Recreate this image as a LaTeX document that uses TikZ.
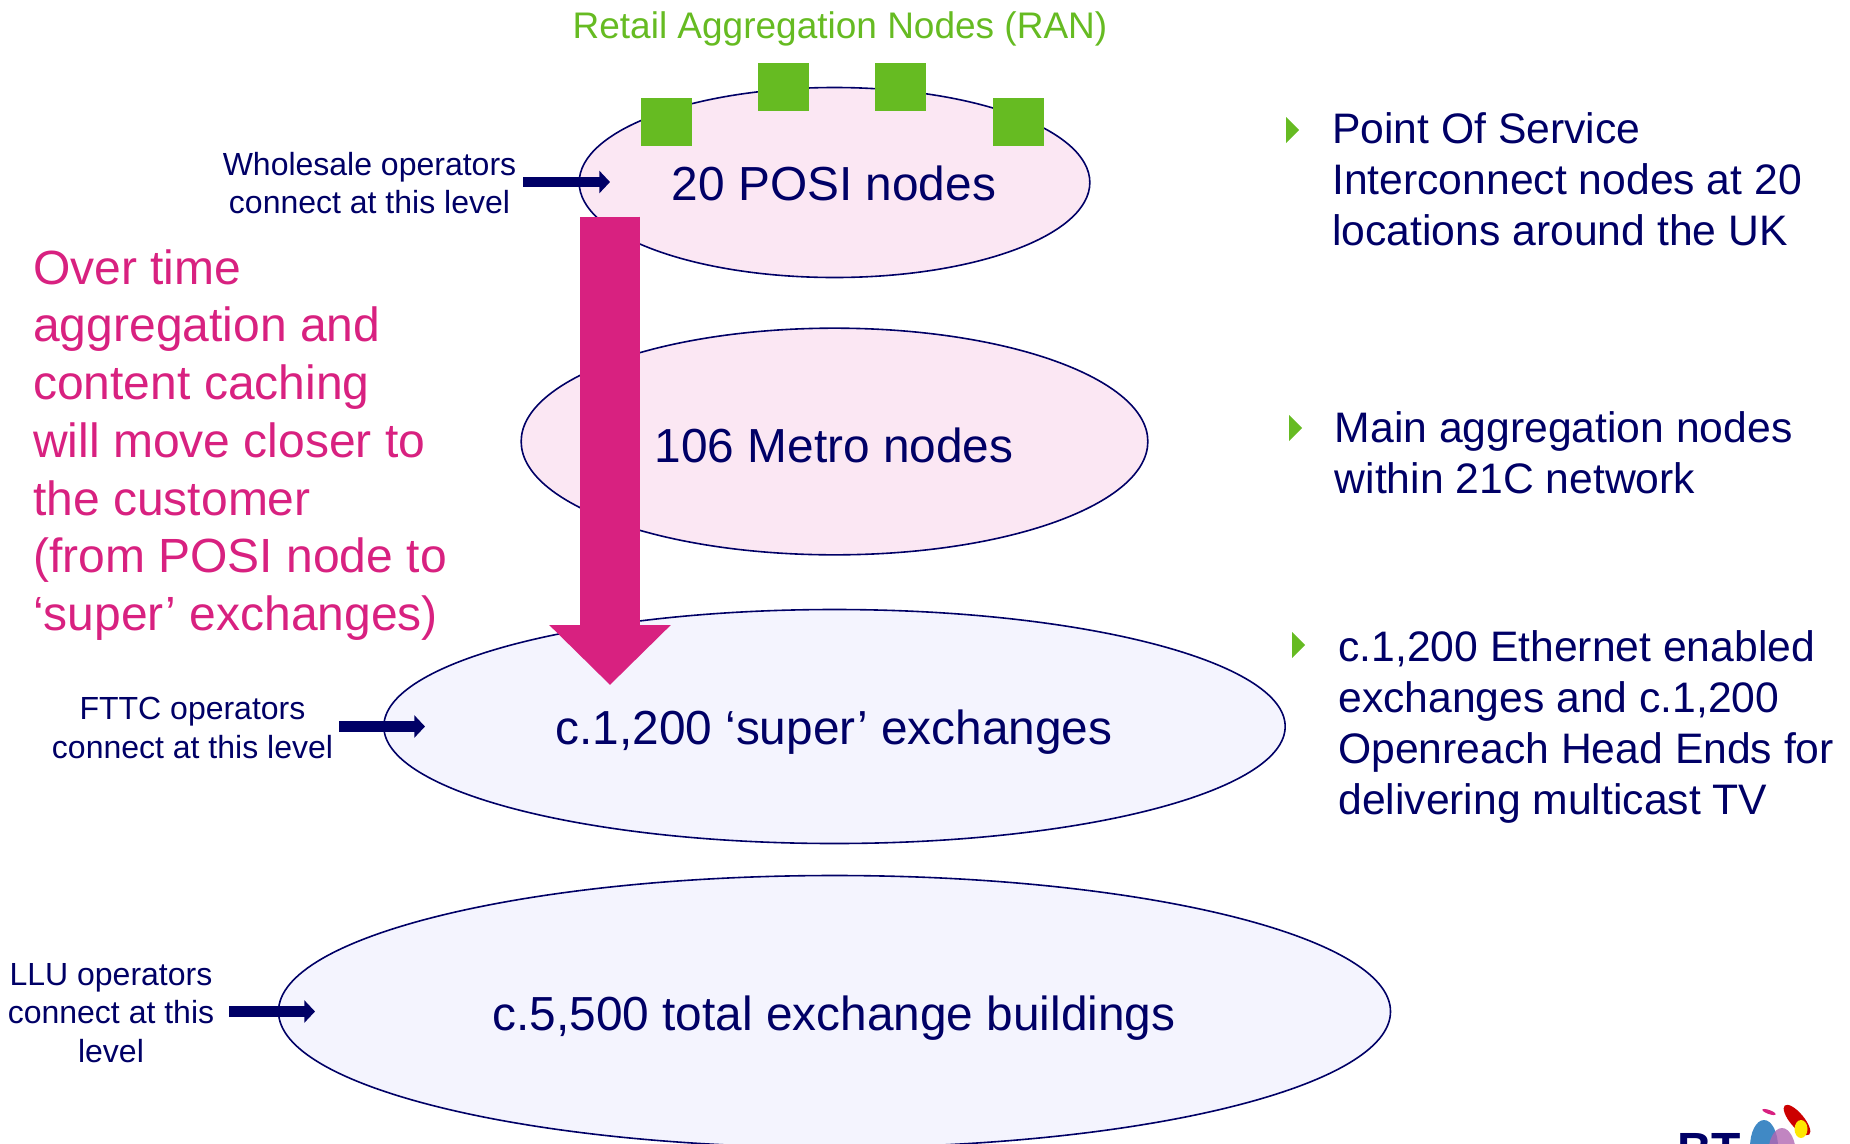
\documentclass[tikz,border=0pt]{standalone}
\usepackage{fontspec}
\setmainfont{Liberation Sans}
\usetikzlibrary{arrows.meta,shapes.geometric}
\definecolor{navyblue}{HTML}{000066}
\definecolor{btgreen}{HTML}{66BB22}
\definecolor{btpink}{HTML}{D82180}
\definecolor{pinkfill}{HTML}{FBE7F3}
\definecolor{bluefill}{HTML}{F4F4FE}
\tikzset{
    level/.style={ellipse, draw=navyblue, line width=1.2pt, inner sep=0pt},
    levellabel/.style={text=navyblue, inner sep=0pt, font=\fontsize{35.85}{40}\selectfont},
    ran/.style={fill=btgreen, minimum width=38.25pt, minimum height=36pt, inner sep=0pt},
    small/.style={text=navyblue, align=center, inner sep=0pt, font=\fontsize{24}{29}\selectfont},
    side/.style={text=navyblue, align=left, anchor=west, inner sep=0pt, font=\fontsize{32}{38.4}\selectfont},
    connect/.style={navyblue, line width=8pt, -{Triangle[length=8pt,width=16.5pt]}},
    bullet/.style={fill=btgreen}
}
\begin{document}
\begin{tikzpicture}[x=0.75pt,y=-0.75pt]
        \useasboundingbox (0,0) rectangle (1850,1143);
        \clip (0,0) rectangle (1850,1143);
        \node [level, fill=pinkfill, minimum width=383pt, minimum height=142.5pt] (posi) at (834.5,182.5) {};
        \node [level, fill=pinkfill, minimum width=470pt, minimum height=170pt] (metro) at (834.5,441.5) {};
        \node [level, fill=bluefill, minimum width=676pt, minimum height=175.5pt] (super) at (834.5,726.5) {};
        \node [level, fill=bluefill, minimum width=834pt, minimum height=204pt] (total) at (834.5,1011.5) {};
        \node [levellabel] (posilabel) at (834,183.5) {20 POSI nodes};
        \node [levellabel] (metrolabel) at (834,445) {106 Metro nodes};
        \node [levellabel] (superlabel) at (834,732) {c.1,200 ‘super’ exchanges};
        \node [levellabel] (totallabel) at (834,1018) {c.5,500 total exchange buildings};
        \node [ran] (rana) at (666.5,122) {};
        \node [ran] (ranb) at (783.5,87) {};
        \node [ran] (ranc) at (900.5,87) {};
        \node [ran] (rand) at (1018.5,122) {};
        \node [text=btgreen, inner sep=0pt, font=\fontsize{27.75}{32}\selectfont] (rantitle) at (840,29) {Retail Aggregation Nodes (RAN)};
        \node [small] (wholesale) at (369.5,183) {Wholesale operators\\connect at this level};
        \node [small] (fttc) at (192.5,728) {FTTC operators\\connect at this level};
        \node [small] (llu) at (111,1013) {LLU operators\\connect at this\\level};
        \coordinate (wholesalestart) at (523,182);
        \coordinate (wholesaleend) at (610,182);
        \coordinate (fttcstart) at (339,726.5);
        \coordinate (fttcend) at (425,726.5);
        \coordinate (llustart) at (229,1011.5);
        \coordinate (lluend) at (315,1011.5);
        \draw [connect] (wholesalestart) -- (wholesaleend);
        \draw [connect] (fttcstart) -- (fttcend);
        \draw [connect] (llustart) -- (lluend);
        \coordinate (movestart) at (610,216.5);
        \coordinate (moveend) at (610,685);
        \draw [btpink, line width=45.5pt, -{Triangle[length=45pt,width=88.5pt]}] (movestart) -- (moveend);
        \node [text=btpink, align=left, anchor=west, inner sep=0pt, font=\fontsize{36}{43.3}\selectfont] (overtime) at (33,445) {Over time\\aggregation and\\content caching\\will move closer to\\the customer\\(from POSI node to\\‘super’ exchanges)};
        \node [side] (posinote) at (1332,179.5) {Point Of Service\\Interconnect nodes at 20\\locations around the UK};
        \node [side] (metronote) at (1334.5,453) {Main aggregation nodes\\within 21C network};
        \node [side] (supernote) at (1338,727) {c.1,200 Ethernet enabled\\exchanges and c.1,200\\Openreach Head Ends for\\delivering multicast TV};
        \fill [bullet] (1286,117) -- (1299,130) -- (1286,143) -- cycle;
        \fill [bullet] (1289,415) -- (1302,428) -- (1289,441) -- cycle;
        \fill [bullet] (1292,632) -- (1305,645) -- (1292,658) -- cycle;
        \node [text=navyblue, anchor=base west, inner sep=0pt, font=\bfseries\fontsize{36}{40}\selectfont] (btname) at (1677,1166) {BT};
        \fill [blue!45!cyan!70!black, opacity=0.75] (1764,1147) ellipse [x radius=14, y radius=27];
        \fill [violet!60!white, opacity=0.8] (1782,1155) ellipse [x radius=14, y radius=27];
        \fill [red!80!black, rotate around={-50:(1797,1120)}] (1797,1120) ellipse [x radius=19, y radius=7];
        \fill [yellow!90!orange] (1801,1129) ellipse [x radius=6.5, y radius=9];
        \fill [btpink, rotate around={-20:(1769,1112)}] (1769,1112) ellipse [x radius=7, y radius=2];
    \end{tikzpicture}
\end{document}
